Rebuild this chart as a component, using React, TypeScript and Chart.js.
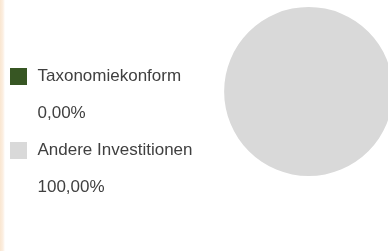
import React, { useEffect, useRef } from "react";
import { Chart, registerables } from "chart.js";

Chart.register(...registerables);

const categories = ["Taxonomiekonform", "Andere Investitionen"];
const values = [0, 100];
const colors = ["#375623", "#d9d9d9"];
const textColor = "#404040";

const fmt = (v: number) => v.toFixed(2).replace(".", ",") + "%";

function swatch(color: string): HTMLCanvasElement {
  const c = document.createElement("canvas");
  c.width = 17;
  c.height = 17;
  const ctx = c.getContext("2d");
  if (ctx) {
    ctx.fillStyle = color;
    ctx.fillRect(0, 0, 17, 17);
  }
  return c;
}

export default function App() {
  const ref = useRef<HTMLCanvasElement | null>(null);

  useEffect(() => {
    if (!ref.current) return;
    const boxes = colors.map((c) => swatch(c));
    const blank = swatch("rgba(0,0,0,0)");
    const chart = new Chart(ref.current, {
      type: "pie",
      data: {
        labels: categories,
        datasets: [
          {
            data: values,
            backgroundColor: colors,
            borderWidth: 0,
            radius: 84.5,
            clip: false as any,
          },
        ],
      },
      options: {
        responsive: false,
        animation: false,
        layout: { padding: { left: 0, top: 0, right: 12.5, bottom: 37 } },
        plugins: {
          tooltip: { enabled: false },
          legend: {
            position: "left",
            align: "start",
            onClick: () => {},
            title: {
              display: true,
              text: " ",
              font: { size: 10, lineHeight: 1 },
              padding: { top: 0, bottom: 78 },
            },
            labels: {
              usePointStyle: true,
              pointStyleWidth: 21,
              boxWidth: 17,
              boxHeight: 17,
              padding: 20,
              color: textColor,
              font: { family: "'Liberation Sans', Arial, sans-serif", size: 17 },
              generateLabels: () => {
                const items: any[] = [];
                categories.forEach((c, i) => {
                  items.push({
                    text: c,
                    fillStyle: colors[i],
                    strokeStyle: colors[i],
                    lineWidth: 0,
                    pointStyle: boxes[i],
                    fontColor: textColor,
                    hidden: false,
                    index: i,
                  });
                  items.push({
                    text: fmt(values[i]),
                    fillStyle: "rgba(0,0,0,0)",
                    strokeStyle: "rgba(0,0,0,0)",
                    lineWidth: 0,
                    pointStyle: blank,
                    fontColor: textColor,
                    hidden: false,
                    index: i,
                  });
                });
                return items;
              },
            },
          },
        },
      },
    });
    return () => chart.destroy();
  }, []);

  return (
    <div
      style={{
        position: "absolute",
        left: 0,
        top: 0,
        width: 388,
        height: 251,
        overflow: "hidden",
        background: "#ffffff",
      }}
    >
      <canvas
        ref={ref}
        width={440}
        height={300}
        style={{ position: "absolute", left: -12, top: -40, width: 440, height: 300 }}
      />
      <div
        style={{
          position: "absolute",
          left: 0,
          top: 0,
          width: 5,
          height: 251,
          background: "linear-gradient(to right, #fae6d0 0px, #fcefe2 3px, #ffffff 5px)",
        }}
      />
    </div>
  );
}
